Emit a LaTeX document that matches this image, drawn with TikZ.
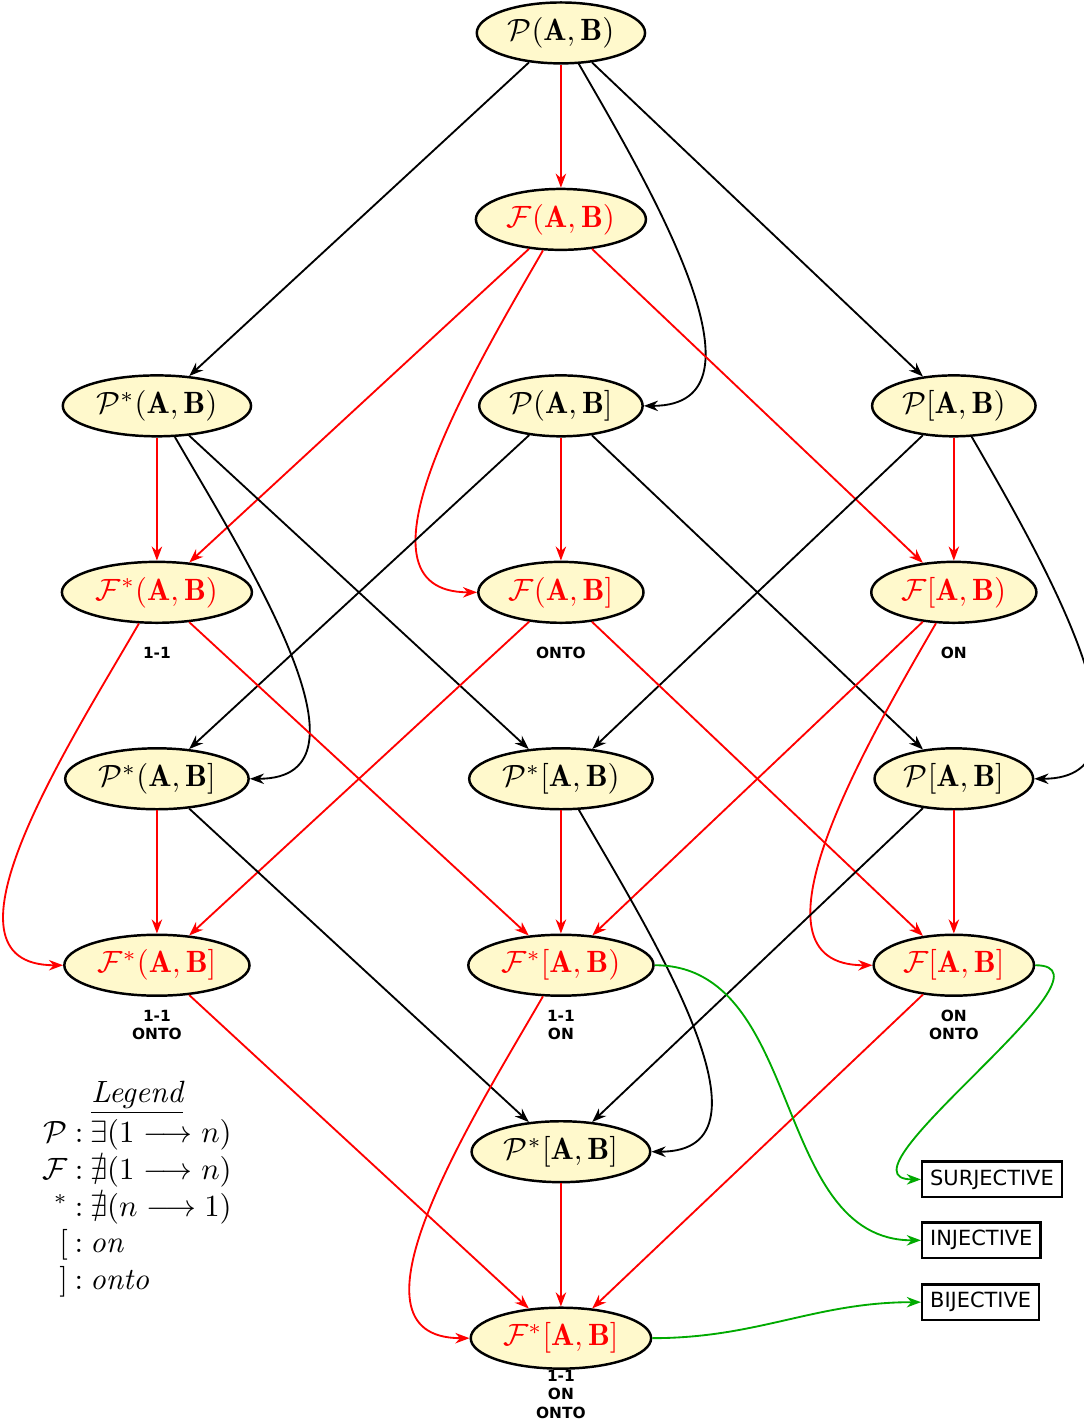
\documentclass[tikz,border=0pt]{standalone}
\usepackage{amssymb}
\usepackage{fontspec}
\setsansfont{DejaVu Sans}
\usetikzlibrary{arrows.meta,positioning,shapes.geometric}
\definecolor{setfill}{RGB}{255,249,204}
\definecolor{mapgreen}{RGB}{0,170,0}

\begin{document}
\begin{tikzpicture}[
    on grid,
    node distance=60.6pt and 131.3pt,
    set/.style={ellipse,draw,thick,fill=setfill,inner sep=2pt},
    fset/.style={set,text=red},
    tag/.style={font=\tiny\sffamily\bfseries,align=center},
    res/.style={draw,thick,font=\fontsize{6.8}{8}\selectfont\sffamily,
                inner sep=2.6pt,minimum height=10.4pt,anchor=west},
    ar/.style={-{Stealth[length=4.6pt,width=3.4pt]},semithick},
    rar/.style={ar,red},
    gar/.style={ar,mapgreen}
  ]
  \useasboundingbox (-182.3pt,10.7pt) rectangle (170pt,-450.8pt);

  % middle column
  \node[set] (pOO) {$\mathcal{P}(\mathbf{A},\mathbf{B})$};
  \node[fset,below=of pOO] (fOO) {$\mathcal{F}(\mathbf{A},\mathbf{B})$};
  \node[set,below=of fOO] (pOC) {$\mathcal{P}(\mathbf{A},\mathbf{B}]$};
  \node[fset,below=of pOC] (fOC) {$\mathcal{F}(\mathbf{A},\mathbf{B}]$};
  \node[set,below=of fOC] (psCO) {$\mathcal{P}^*[\mathbf{A},\mathbf{B})$};
  \node[fset,below=of psCO] (fsCO) {$\mathcal{F}^*[\mathbf{A},\mathbf{B})$};
  \node[set,below=of fsCO] (psCC) {$\mathcal{P}^*[\mathbf{A},\mathbf{B}]$};
  \node[fset,below=of psCC] (fsCC) {$\mathcal{F}^*[\mathbf{A},\mathbf{B}]$};

  % left column
  \node[set,left=of pOC] (psOO) {$\mathcal{P}^*(\mathbf{A},\mathbf{B})$};
  \node[fset,left=of fOC] (fsOO) {$\mathcal{F}^*(\mathbf{A},\mathbf{B})$};
  \node[set,left=of psCO] (psOC) {$\mathcal{P}^*(\mathbf{A},\mathbf{B}]$};
  \node[fset,left=of fsCO] (fsOC) {$\mathcal{F}^*(\mathbf{A},\mathbf{B}]$};

  % right column
  \node[set,right=127.7pt of pOC] (pCO) {$\mathcal{P}[\mathbf{A},\mathbf{B})$};
  \node[fset,right=127.7pt of fOC] (fCO) {$\mathcal{F}[\mathbf{A},\mathbf{B})$};
  \node[set,right=127.7pt of psCO] (pCC) {$\mathcal{P}[\mathbf{A},\mathbf{B}]$};
  \node[fset,right=127.7pt of fsCO] (fCC) {$\mathcal{F}[\mathbf{A},\mathbf{B}]$};

  % properties
  \node[tag,below=19.8pt of fsOO] (tfsOO) {1-1};
  \node[tag,below=19.8pt of fOC] (tfOC) {ONTO};
  \node[tag,below=19.8pt of fCO] (tfCO) {ON};
  \node[tag,below=19.4pt of fsOC] (tfsOC) {1-1\\ONTO};
  \node[tag,below=19.4pt of fsCO] (tfsCO) {1-1\\ON};
  \node[tag,below=19.4pt of fCC] (tfCC) {ON\\ONTO};
  \node[tag,below=18.2pt of fsCC] (tfsCC) {1-1\\ON\\ONTO};

  % results
  \node[res] (surj) at ([xshift=-10.7pt,yshift=-69.6pt]fCC.center) {SURJECTIVE};
  \node[res] (inj) at ([xshift=-10.7pt,yshift=-89.4pt]fCC.center) {INJECTIVE};
  \node[res] (bij) at ([xshift=-10.7pt,yshift=-109.5pt]fCC.center) {BIJECTIVE};

  % legend
  \node[below=72.6pt of fsOC,xshift=-6.4pt] (legend) {$\begin{array}{r@{\mskip4mu:\mskip4mu}l}
      \multicolumn{2}{c}{\underline{\textit{Legend}}}\\[1pt]
      \mathcal{P} & \exists(1\longrightarrow n)\\
      \mathcal{F} & \nexists(1\longrightarrow n)\\
      {}^* & \nexists(n\longrightarrow 1)\\
      {[} & \mathit{on}\\
      {]} & \mathit{onto}
    \end{array}$};

  % P(A,B)
  \draw[ar] (pOO) -- (psOO);
  \draw[ar] (pOO) to[out=-60,in=0] (pOC);
  \draw[ar] (pOO) -- (pCO);
  \draw[rar] (pOO) -- (fOO);
  \draw[rar] (fOO) -- (fsOO);
  \draw[rar] (fOO) to[out=-120,in=180] (fOC);
  \draw[rar] (fOO) -- (fCO);

  % third row
  \draw[rar] (psOO) -- (fsOO);
  \draw[ar] (psOO) to[out=-60,in=0] (psOC);
  \draw[ar] (psOO) -- (psCO);
  \draw[rar] (pOC) -- (fOC);
  \draw[ar] (pOC) -- (psOC);
  \draw[ar] (pOC) -- (pCC);
  \draw[rar] (pCO) -- (fCO);
  \draw[ar] (pCO) -- (psCO);
  \draw[ar] (pCO) to[out=-60,in=0] (pCC);

  \draw[rar] (fsOO) to[out=-120,in=180] (fsOC);
  \draw[rar] (fsOO) -- (fsCO);
  \draw[rar] (fOC) -- (fsOC);
  \draw[rar] (fOC) -- (fCC);
  \draw[rar] (fCO) -- (fsCO);
  \draw[rar] (fCO) to[out=-120,in=180] (fCC);

  % fifth row
  \draw[rar] (psOC) -- (fsOC);
  \draw[ar] (psOC) -- (psCC);
  \draw[rar] (psCO) -- (fsCO);
  \draw[ar] (psCO) to[out=-60,in=0] (psCC);
  \draw[rar] (pCC) -- (fCC);
  \draw[ar] (pCC) -- (psCC);

  \draw[rar] (fsOC) -- (fsCC);
  \draw[rar] (fsCO) to[out=-120,in=180] (fsCC);
  \draw[rar] (fCC) -- (fsCC);
  \draw[rar] (psCC) -- (fsCC);

  % to the results
  \draw[gar] (fCC) to[out=0,in=180] (surj);
  \draw[gar] (fsCO) to[out=0,in=180] (inj);
  \draw[gar] (fsCC) to[out=0,in=180] (bij);
\end{tikzpicture}
\end{document}
